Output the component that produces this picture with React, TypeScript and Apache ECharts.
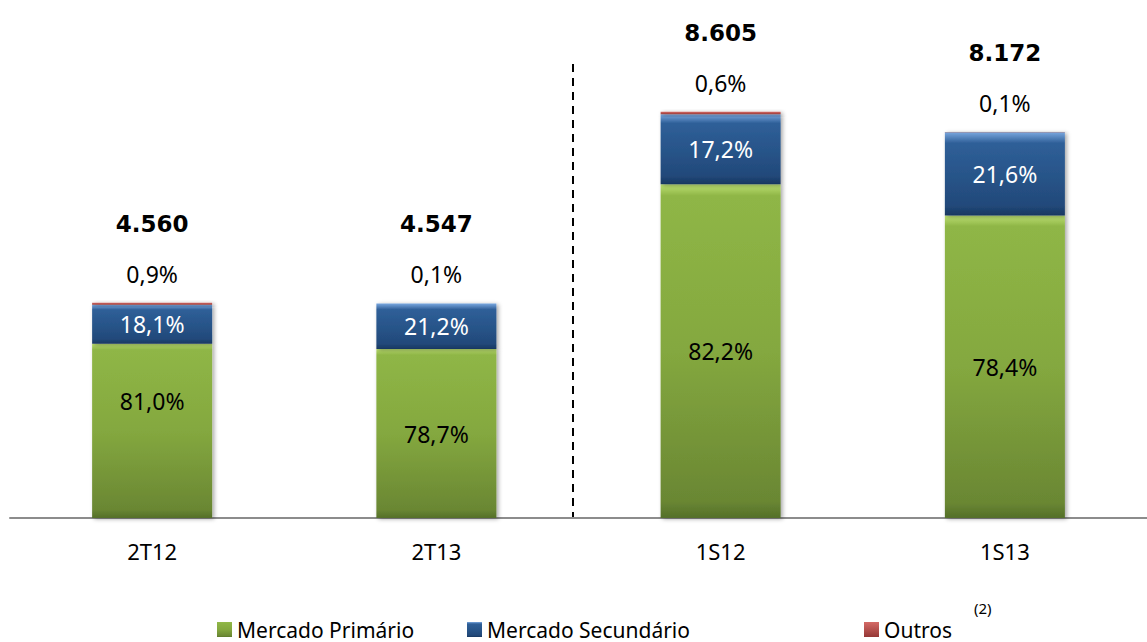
import React, { useEffect, useRef } from "react";
import * as echarts from "echarts";

const categories = ["2T12", "2T13", "1S12", "1S13"];
const totals = [4560, 4547, 8605, 8172];
const totalLabels = ["4.560", "4.547", "8.605", "8.172"];
const pctPrimario = [81.0, 78.7, 82.2, 78.4];
const pctSecundario = [18.1, 21.2, 17.2, 21.6];
const pctOutros = [0.9, 0.1, 0.6, 0.1];
const legendNames = ["Mercado Primário", "Mercado Secundário", "Outros"];

const fmtPct = (v: number) => v.toFixed(1).replace(".", ",") + "%";
const toValues = (pcts: number[]) => pcts.map((p, i) => (totals[i] * p) / 100);

const FONT = "'Noto Sans', sans-serif";

export default function App() {
  const ref = useRef<HTMLDivElement>(null);
  useEffect(() => {
    if (!ref.current) return;
    const chart = echarts.init(ref.current, null, { renderer: "svg" });
    const grad = (stops: [number, string][]) =>
      new echarts.graphic.LinearGradient(
        0, 0, 0, 1,
        stops.map(([offset, color]) => ({ offset, color }))
      );
    const green = grad([
      [0, "#bde073"],
      [0.035, "#8fb646"],
      [0.5, "#84a83f"],
      [0.95, "#6a8733"],
      [1, "#546f29"],
    ]);
    const blue = grad([
      [0, "#78a6de"],
      [0.13, "#2f5f98"],
      [0.5, "#28558a"],
      [0.88, "#22497a"],
      [1, "#183760"],
    ]);
    const red = grad([
      [0, "#d46a66"],
      [1, "#953735"],
    ]);
    const shadow = {
      shadowColor: "rgba(0,0,0,0.35)",
      shadowBlur: 4,
      shadowOffsetX: 2,
      shadowOffsetY: 1,
    };
    const primVals = toValues(pctPrimario);
    const secVals = toValues(pctSecundario);
    const outVals = toValues(pctOutros);

    chart.setOption({
      animation: false,
      grid: { left: 10, right: -11, top: 46, bottom: 124, containLabel: false },
      xAxis: {
        type: "category",
        data: categories,
        axisLine: { lineStyle: { color: "#8c8c8c", width: 2 } },
        axisTick: { show: false },
        axisLabel: { color: "#000", fontSize: 22, fontFamily: FONT, margin: 22 },
      },
      yAxis: { type: "value", min: 0, max: 10000, show: false, splitLine: { show: false } },
      legend: [0, 1, 2].map((k) => ({
        data: [legendNames[k]],
        left: [212, 462, 859][k],
        top: 614,
        itemWidth: 15,
        itemHeight: 15,
        icon: "rect",
        itemGap: 6,
        textStyle: { fontSize: 21, fontFamily: FONT, color: "#000" },
      })),
      graphic: [
        {
          type: "line",
          shape: { x1: 573, y1: 64, x2: 573, y2: 517 },
          style: { stroke: "#000", lineWidth: 2, lineDash: [8, 6] },
        },
        {
          type: "text",
          left: 974,
          top: 600,
          style: { text: "(2)", fontSize: 15, fontFamily: FONT, fill: "#000" },
        },
      ],
      series: [
        {
          name: legendNames[0],
          type: "bar",
          stack: "t",
          barWidth: 120,
          data: primVals.map((v, i) =>
            i === 0 ? { value: v, label: { offset: [0, -30] } } : v
          ),
          itemStyle: { color: green, ...shadow },
          label: {
            show: true,
            position: "inside",
            color: "#000",
            fontSize: 23,
            fontFamily: FONT,
            formatter: (p: any) => fmtPct(pctPrimario[p.dataIndex]),
          },
        },
        {
          name: legendNames[1],
          type: "bar",
          stack: "t",
          barWidth: 120,
          data: secVals,
          itemStyle: { color: blue, ...shadow },
          label: {
            show: true,
            position: "inside",
            color: "#fff",
            fontSize: 23,
            fontFamily: FONT,
            formatter: (p: any) => fmtPct(pctSecundario[p.dataIndex]),
          },
        },
        {
          name: legendNames[2],
          type: "bar",
          stack: "t",
          barWidth: 120,
          data: outVals,
          itemStyle: { color: red, ...shadow },
          label: {
            show: true,
            position: "top",
            distance: 14,
            formatter: (p: any) =>
              "{t|" + totalLabels[p.dataIndex] + "}\n{p|" + fmtPct(pctOutros[p.dataIndex]) + "}",
            rich: {
              t: {
                fontSize: 23,
                fontWeight: "bold",
                fontFamily: "'DejaVu Sans', sans-serif",
                color: "#000",
                lineHeight: 70,
              },
              p: {
                fontSize: 23,
                fontFamily: FONT,
                color: "#000",
                lineHeight: 30,
              },
            },
          },
        },
      ],
    });
    return () => chart.dispose();
  }, []);
  return (
    <div
      ref={ref}
      style={{ position: "absolute", left: 0, top: 0, width: 1147, height: 642, background: "#fff" }}
    />
  );
}
